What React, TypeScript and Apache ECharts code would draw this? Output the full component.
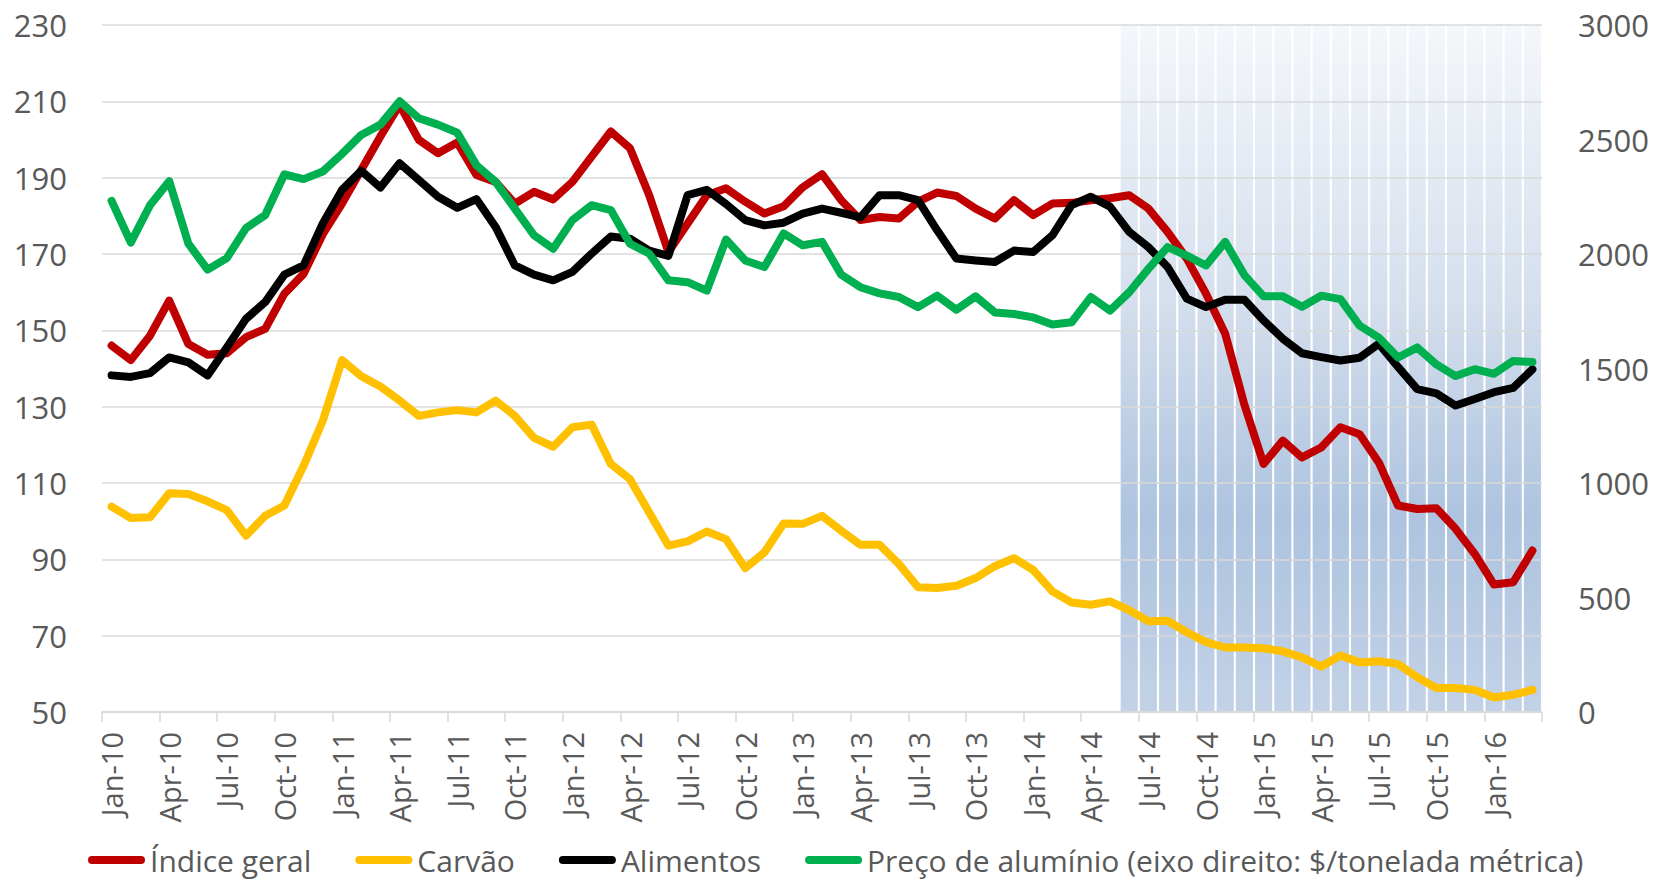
import React, { useEffect, useRef } from "react";
import * as echarts from "echarts";

const MONTHS = ["Jan", "Feb", "Mar", "Apr", "May", "Jun", "Jul", "Aug", "Sep", "Oct", "Nov", "Dec"];
const YEARS = ["10", "11", "12", "13", "14", "15", "16"];
const LAST_YEAR_MONTHS = 3;

const categories: string[] = [];
YEARS.forEach((y, yi) => {
  const n = yi === YEARS.length - 1 ? LAST_YEAR_MONTHS : 12;
  for (let m = 0; m < n; m++) categories.push(`${MONTHS[m]}-${y}`);
});

const indiceGeral = [
  146.0, 142.2, 148.6, 157.8, 146.4, 143.6, 144.0, 148.2, 150.4, 159.6, 164.8, 175.2,
  183.2, 192.0, 200.8, 209.1, 199.9, 196.4, 199.2, 190.7, 188.9, 183.2, 186.3, 184.3,
  188.9, 195.5, 202.1, 197.7, 185.4, 170.5, 178.0, 185.4, 187.2, 183.7, 180.6, 182.5,
  187.5, 190.9, 184.1, 178.9, 179.7, 179.3, 183.7, 186.1, 185.2, 181.9, 179.3, 184.1,
  180.2, 183.2, 183.4, 184.1, 184.6, 185.4, 181.9, 175.8, 168.8, 159.6, 149.1, 130.5,
  115.0, 121.1, 116.7, 119.3, 124.6, 122.8, 115.4, 104.1, 103.2, 103.4, 98.0, 91.4,
  83.4, 84.0, 92.3,
];

const carvao = [
  103.8, 100.8, 101.0, 107.3, 107.1, 105.2, 102.9, 96.2, 101.4, 104.1, 114.5, 126.3,
  142.2, 138.0, 135.3, 131.6, 127.6, 128.5, 129.1, 128.5, 131.6, 127.6, 121.8, 119.5,
  124.6, 125.3, 115.0, 111.0, 102.3, 93.6, 94.7, 97.3, 95.3, 87.7, 91.8, 99.4,
  99.3, 101.4, 97.5, 93.8, 93.8, 88.8, 82.7, 82.5, 83.1, 85.1, 88.2, 90.3,
  87.2, 81.6, 78.7, 78.1, 79.0, 76.7, 73.8, 73.9, 70.9, 68.3, 66.9, 66.9,
  66.7, 65.9, 64.3, 61.9, 64.8, 63.0, 63.3, 62.6, 59.1, 56.3, 56.3, 55.8,
  53.8, 54.5, 55.8,
];

const alimentos = [
  138.2, 137.8, 138.8, 142.9, 141.6, 138.2, 145.5, 153.0, 157.4, 164.6, 167.0, 178.0,
  186.8, 191.8, 187.4, 193.8, 189.4, 185.0, 182.1, 184.4, 177.1, 167.0, 164.6, 163.1,
  165.3, 170.1, 174.6, 174.0, 170.9, 169.5, 185.4, 186.8, 183.1, 178.9, 177.5, 178.2,
  180.6, 181.9, 180.8, 179.6, 185.4, 185.4, 184.1, 176.2, 168.8, 168.3, 167.9, 170.9,
  170.5, 174.9, 182.8, 185.0, 182.4, 175.8, 171.8, 166.6, 158.3, 156.1, 158.0, 158.0,
  152.6, 147.8, 144.0, 143.0, 142.1, 142.8, 146.5, 140.4, 134.6, 133.5, 130.3, 132.0,
  133.8, 134.9, 139.8,
];

const aluminio = [
  2232, 2050, 2213, 2318, 2045, 1932, 1982, 2113, 2170, 2348, 2327, 2360,
  2437, 2520, 2565, 2667, 2593, 2565, 2530, 2388, 2315, 2198, 2082, 2023,
  2148, 2213, 2192, 2045, 2002, 1885, 1877, 1840, 2063, 1972, 1943, 2090,
  2038, 2053, 1910, 1855, 1828, 1812, 1768, 1818, 1757, 1815, 1745, 1738,
  1723, 1692, 1702, 1812, 1753, 1833, 1935, 2030, 1993, 1950, 2053, 1908,
  1815, 1815, 1770, 1818, 1803, 1687, 1635, 1548, 1592, 1518, 1467, 1497,
  1477, 1533, 1528,
];

const SHADE_START = "Jun-14";
const SHADE_VALUE = 3000;

const LEFT_TICKS = { min: 50, max: 230, interval: 20 };
const RIGHT_TICKS = { min: 0, max: 3000, interval: 500 };

const SERIES_NAMES = [
  "Índice geral",
  "Carvão",
  "Alimentos",
  "Preço de alumínio (eixo direito: $/tonelada métrica)",
];
const COLORS = ["#C00000", "#FFC000", "#000000", "#00B050"];

const FONT = "'Open Sans', 'Noto Sans', sans-serif";
const TEXT = "#595959";
const GRID = "#d9d9d9";

export default function App() {
  const ref = useRef<HTMLDivElement>(null);

  useEffect(() => {
    if (!ref.current) return;
    const chart = echarts.init(ref.current, undefined, { renderer: "svg" });
    const shadeIdx = categories.indexOf(SHADE_START);
    const shade = categories.map((_, i) => (i >= shadeIdx ? SHADE_VALUE : null));
    const legendIcon = "path://M4,0 L53,0 A4,4 0 0 1 53,8 L4,8 A4,4 0 0 1 4,0 Z";
    const lineSeries = [indiceGeral, carvao, alimentos, aluminio].map((d, k) => ({
      name: SERIES_NAMES[k],
      type: "line",
      data: d,
      yAxisIndex: k === 3 ? 1 : 0,
      symbol: "none",
      z: 3 + k,
      lineStyle: { color: COLORS[k], width: 8, join: "round", cap: "round" },
      itemStyle: { color: COLORS[k] },
    }));
    chart.setOption({
      animation: false,
      backgroundColor: "#ffffff",
      textStyle: { fontFamily: FONT },
      grid: { left: 102, right: 113, top: 25, bottom: 170, containLabel: false },
      legend: {
        data: SERIES_NAMES,
        left: 88,
        top: 845,
        padding: 0,
        icon: legendIcon,
        itemWidth: 57,
        itemHeight: 8,
        itemGap: 44,
        textStyle: { color: TEXT, fontSize: 30, lineHeight: 30, fontFamily: FONT },
      },
      xAxis: {
        type: "category",
        data: categories,
        boundaryGap: true,
        axisLine: { lineStyle: { color: GRID, width: 1.5 } },
        axisTick: { show: true, interval: 2, length: 10, lineStyle: { color: GRID, width: 1.5 } },
        axisLabel: {
          interval: 2,
          rotate: 90,
          margin: 20,
          color: TEXT,
          fontSize: 29,
          fontFamily: FONT,
        },
      },
      yAxis: [
        {
          type: "value",
          min: LEFT_TICKS.min,
          max: LEFT_TICKS.max,
          interval: LEFT_TICKS.interval,
          axisLine: { show: false },
          axisTick: { show: false },
          splitLine: { lineStyle: { color: GRID, width: 1.5 } },
          axisLabel: { color: TEXT, fontSize: 31, margin: 35, fontFamily: FONT },
        },
        {
          type: "value",
          min: RIGHT_TICKS.min,
          max: RIGHT_TICKS.max,
          interval: RIGHT_TICKS.interval,
          axisLine: { show: false },
          axisTick: { show: false },
          splitLine: { show: false },
          axisLabel: {
            color: TEXT,
            fontSize: 31,
            margin: 36,
            fontFamily: FONT,
            formatter: (v: number) => String(v),
          },
        },
      ],
      series: [
        {
          name: "shade",
          type: "bar",
          yAxisIndex: 1,
          data: shade,
          barCategoryGap: "11%",
          z: -1,
          silent: true,
          itemStyle: {
            color: new echarts.graphic.LinearGradient(0, 0, 0, 1, [
              { offset: 0, color: "#f4f7fb" },
              { offset: 0.4, color: "#d5dfed" },
              { offset: 0.72, color: "#adc3df" },
              { offset: 1, color: "#c3d2e7" },
            ]),
          },
        },
        ...lineSeries,
      ],
    });
    return () => chart.dispose();
  }, []);

  return (
    <div
      ref={ref}
      style={{ position: "absolute", left: 0, top: 0, width: 1655, height: 882 }}
    />
  );
}
